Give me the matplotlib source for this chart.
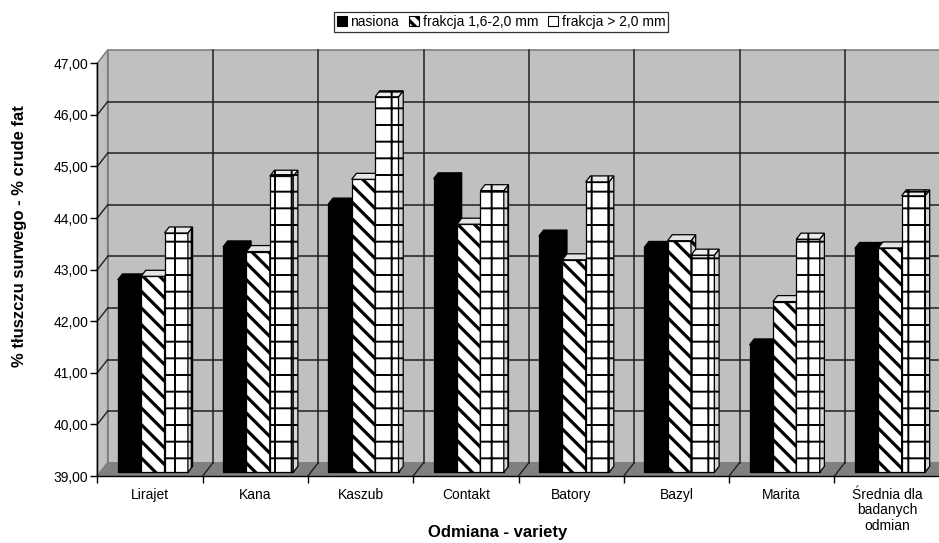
import numpy as np
import matplotlib
matplotlib.use('Agg')
import matplotlib.pyplot as plt
from matplotlib.patches import Polygon, Patch

plt.rcParams['font.family'] = ['Liberation Sans', 'DejaVu Sans']
plt.rcParams['hatch.linewidth'] = 2.3

# data
odmiany = ['Lirajet', 'Kana', 'Kaszub', 'Contakt', 'Batory', 'Bazyl', 'Marita',
           'Średnia dla\nbadanych\nodmian']
nasiona  = [42.73, 43.37, 44.20, 44.69, 43.58, 43.36, 41.47, 43.34]
frakcja1 = [42.80, 43.28, 44.68, 43.81, 43.12, 43.49, 42.31, 43.35]
frakcja2 = [43.64, 44.74, 46.28, 44.46, 44.63, 43.21, 43.52, 44.36]
seria_nazwy = ['nasiona', 'frakcja 1,6-2,0 mm', 'frakcja > 2,0 mm']

ymin, ymax = 39, 47

fig = plt.figure(figsize=(9.39, 5.43), dpi=100)
ax = fig.add_axes([97.3/939, 67/543, 842.4/939, 412.7/543])
ax.set_xlim(0, 8)
ax.set_ylim(ymin, ymax)
ax.patch.set_visible(False)

# depth of the 3D box (data units)
DX, DY = 0.0988, 0.258
wall = '#c0c0c0'
edge = '#808080'

# walls and floor
ax.add_patch(Polygon([(DX, ymin+DY), (8+DX, ymin+DY), (8+DX, ymax+DY), (DX, ymax+DY)],
                     closed=True, fc=wall, ec=edge, lw=1.2, clip_on=False, zorder=0))
ax.add_patch(Polygon([(0, ymin), (DX, ymin+DY), (DX, ymax+DY), (0, ymax)],
                     closed=True, fc=wall, ec=edge, lw=1.2, clip_on=False, zorder=0))
ax.add_patch(Polygon([(0, ymin), (8, ymin), (8+DX, ymin+DY), (DX, ymin+DY)],
                     closed=True, fc=edge, ec=edge, lw=1, clip_on=False, zorder=0))

# gridlines
for v in range(ymin+1, ymax):
    ax.plot([DX, 8+DX], [v+DY, v+DY], color='#202020', lw=1.1, clip_on=False, zorder=1)
    ax.plot([0, DX], [v, v+DY], color='#202020', lw=1.0, clip_on=False, zorder=1)
for k in range(1, 8):
    ax.plot([k+DX, k+DX], [ymin+DY, ymax+DY], color='#202020', lw=1.1, clip_on=False, zorder=1)
    ax.plot([k, k+DX], [ymin, ymin+DY], color='#202020', lw=1.0, clip_on=False, zorder=1)

# bars
W = 1/4.5
f0, fd = 0.275, 0.45
ox, oy = f0*DX, f0*DY
bx, by = fd*DX, fd*DY
styles = [
    dict(fc='black', hatch=None, top='black', side='black', hlw=None),
    dict(fc='white', hatch='\\\\', top='#e4e4e4', side='#d0d0d0', hlw=2.3),
    dict(fc='white', hatch='+', top='#ececec', side='#d8d8d8', hlw=1.4),
]
series = [nasiona, frakcja1, frakcja2]

def set_hlw(p, lw):
    if lw is not None and hasattr(p, 'set_hatch_linewidth'):
        p.set_hatch_linewidth(lw)

z = 3
for i in range(len(odmiany)):
    for j, vals in enumerate(series):
        st = styles[j]
        x0 = i + (1 - 3*W)/2 + j*W + ox
        v = vals[i]
        top = v + oy
        bars = ax.bar(x0, v - ymin, bottom=ymin + oy, width=W, align='edge',
                      color=st['fc'], edgecolor='black', lw=0.9, hatch=st['hatch'],
                      zorder=z, clip_on=False)
        for b in bars:
            set_hlw(b, st['hlw'])
        side = Polygon([(x0+W, ymin+oy), (x0+W+bx, ymin+oy+by), (x0+W+bx, top+by), (x0+W, top)],
                       closed=True, fc=st['side'], ec='black', lw=0.9, hatch=st['hatch'],
                       clip_on=False, zorder=z)
        set_hlw(side, st['hlw'])
        ax.add_patch(side)
        tp = Polygon([(x0, top), (x0+W, top), (x0+W+bx, top+by), (x0+bx, top+by)],
                     closed=True, fc=st['top'], ec='black', lw=0.9,
                     hatch=st['hatch'] if j == 2 else None, clip_on=False, zorder=z)
        set_hlw(tp, st['hlw'])
        ax.add_patch(tp)
        z += 1

# axes
for s in ['top', 'right']:
    ax.spines[s].set_visible(False)
for s in ['left', 'bottom']:
    ax.spines[s].set_color('black')
    ax.spines[s].set_linewidth(1.0)
    ax.spines[s].set_zorder(100)

ax.set_yticks(range(ymin, ymax+1))
ax.set_yticklabels([f'{v:.2f}'.replace('.', ',') for v in range(ymin, ymax+1)])
ax.tick_params(axis='y', direction='out', length=5, width=1, pad=1.5, labelsize=10)
ax.set_xticks(range(0, 9))
ax.set_xticklabels([])
ax.tick_params(axis='x', which='major', direction='out', length=5, width=1)
ax.set_xticks(np.arange(8) + 0.5, minor=True)
ax.set_xticklabels(odmiany, minor=True, fontsize=10, linespacing=1.15)
ax.tick_params(axis='x', which='minor', length=0, pad=8.5)

fig.text(19.5/939, 1 - 236/543, '% tłuszczu surwego - % crude fat', rotation=90,
         ha='center', va='center', fontweight='bold', fontsize=12)
fig.text(497.5/939, 1 - 533/543, 'Odmiana - variety', ha='center', va='center',
         fontweight='bold', fontsize=12)

handles = [Patch(fc='black', ec='black', lw=0.8),
           Patch(fc='white', ec='black', hatch='\\\\\\', lw=0.8),
           Patch(fc='white', ec='black', lw=0.8)]
leg = fig.legend(handles, seria_nazwy, loc='upper center', ncol=3,
                 bbox_to_anchor=(501/939, 1 - 12/543), fontsize=10, frameon=True,
                 fancybox=False, shadow=False, handlelength=0.75, handleheight=0.75,
                 handletextpad=0.25, columnspacing=0.7, borderpad=0.2, borderaxespad=0)
leg.get_frame().set_edgecolor('black')
leg.get_frame().set_linewidth(0.9)

plt.savefig('out.png', dpi=100)
